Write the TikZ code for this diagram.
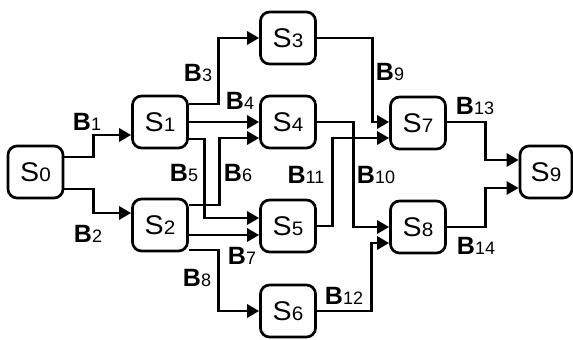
\documentclass[tikz,border=0pt]{standalone}
\usepackage{fontspec}
\setmainfont{Liberation Sans}
\usetikzlibrary{arrows.meta,calc}

\newcommand{\Stxt}[1]{\scalebox{1.06}[1]{{\fontsize{27}{27}\selectfont S}{\fontsize{19.5}{19.5}\selectfont #1}}}
\newcommand{\Btxt}[1]{{\fontsize{25}{25}\selectfont\bfseries B}{\fontsize{18}{18}\selectfont #1}}

\begin{document}
\begin{tikzpicture}[x=1pt,y=-1pt,
  state/.style={draw, line width=2.7pt, rounded corners=9pt, minimum width=55pt, minimum height=52pt, inner sep=0pt},
  conn/.style={line width=2.9pt, -{Triangle[length=12pt,width=13pt]}},
  blabel/.style={inner sep=0pt}]
\useasboundingbox (0,0) rectangle (573,340);

% states
\node[state] (S0) at (35.5,172) {\Stxt{0}};
\node[state] (S1) at (160,122) {\Stxt{1}};
\node[state] (S2) at (160,225) {\Stxt{2}};
\node[state] (S3) at (288,38)  {\Stxt{3}};
\node[state] (S4) at (288,122) {\Stxt{4}};
\node[state] (S5) at (288,226) {\Stxt{5}};
\node[state] (S6) at (288,311) {\Stxt{6}};
\node[state] (S7) at (418,123) {\Stxt{7}};
\node[state] (S8) at (418,227) {\Stxt{8}};
\node[state, minimum width=52pt] (S9) at (546,172) {\Stxt{9}};

% connectors
\draw[conn] ($(S0.east)+(0,-15)$) -- ++(29,0) |- ($(S1.west)+(0,13)$);
\draw[conn] ($(S0.east)+(0,17)$) -- ++(29,0) |- ($(S2.west)+(0,-12)$);
\draw[conn] ($(S1.east)+(0,-18)$) -- ++(30,0) |- (S3.west);
\draw[conn] (S1.east) -- (S4.west);
\draw[conn] ($(S1.east)+(0,17)$) -- ++(16,0) |- ($(S5.west)+(0,-8)$);
\draw[conn] ($(S2.east)+(0,-20)$) -- ++(31,0) |- ($(S4.west)+(0,16)$);
\draw[conn] ($(S2.east)+(0,10)$) -- ($(S5.west)+(0,9)$);
\draw[conn] ($(S2.east)+(0,25)$) -- ++(30,0) |- (S6.west);
\draw[conn] (S3.east) -- ++(55.5,0) |- ($(S7.west)+(0,-1)$);
\draw[conn] (S4.east) -- ++(37,0) |- (S8.west);
\draw[conn] (S5.east) -- ++(16,0) |- ($(S7.west)+(0,15)$);
\draw[conn] (S6.east) -- ++(55,0) |- ($(S8.west)+(0,16)$);
\draw[conn] ($(S7.east)+(0,-1)$) -- ++(39,0) |- ($(S9.west)+(0,-12)$);
\draw[conn] (S8.east) -- ++(39,0) |- ($(S9.west)+(0,16)$);

% labels
\node[blabel] (B1)  at (87,122)  {\Btxt{1}};
\node[blabel] (B2)  at (88,234)  {\Btxt{2}};
\node[blabel] (B3)  at (198,73)  {\Btxt{3}};
\node[blabel] (B4)  at (240,101) {\Btxt{4}};
\node[blabel] (B5)  at (184,173) {\Btxt{5}};
\node[blabel] (B6)  at (238,173) {\Btxt{6}};
\node[blabel] (B7)  at (242,256) {\Btxt{7}};
\node[blabel] (B8)  at (197,278) {\Btxt{8}};
\node[blabel] (B9)  at (390,72)  {\Btxt{9}};
\node[blabel] (B10) at (376,175) {\Btxt{10}};
\node[blabel] (B11) at (306,175) {\Btxt{11}};
\node[blabel] (B12) at (344,296) {\Btxt{12}};
\node[blabel] (B13) at (475,106) {\Btxt{13}};
\node[blabel] (B14) at (476,246) {\Btxt{14}};
\end{tikzpicture}
\end{document}
